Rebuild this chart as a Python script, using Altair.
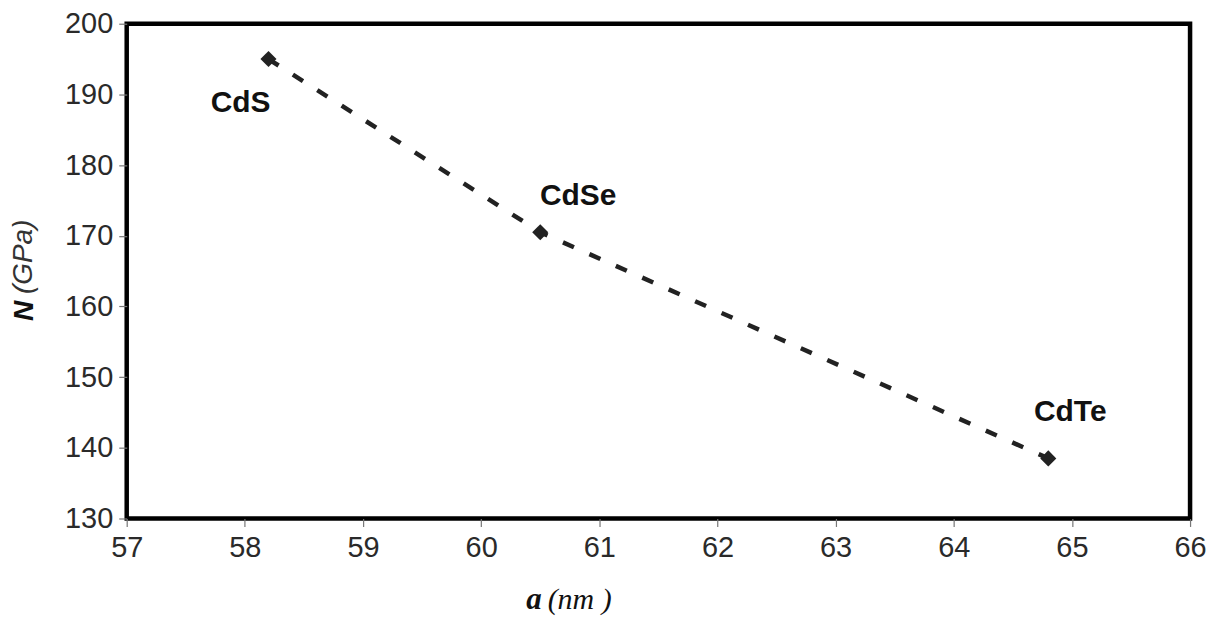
import altair as alt
import pandas as pd

compounds = ["CdS", "CdSe", "CdTe"]
lattice_a = [58.2, 60.5, 64.8]
modulus_n = [195.0, 170.5, 138.5]

x_ticks = [57, 58, 59, 60, 61, 62, 63, 64, 65, 66]
y_ticks = [130, 140, 150, 160, 170, 180, 190, 200]

df = pd.DataFrame({"compound": compounds, "a": lattice_a, "N": modulus_n})

W, H = 1066, 496
FONT = "Liberation Sans"

xs = alt.Scale(domain=[57, 66], nice=False, zero=False)
ys = alt.Scale(domain=[130, 200], nice=False, zero=False)

xax = alt.Axis(values=x_ticks, format="d", title=None, grid=False, domain=False,
               tickColor="#777", tickSize=8, tickWidth=1.2,
               labelFont=FONT, labelFontSize=29, labelColor="#2a2a2a",
               labelPadding=7, labelFlush=False)
yax = alt.Axis(values=y_ticks, format="d", title=None, grid=False, domain=False,
               tickColor="#777", tickSize=8, tickWidth=1.2,
               labelFont=FONT, labelFontSize=29, labelColor="#2a2a2a",
               labelPadding=6)

base = alt.Chart(df)

line = base.mark_line(color="#222", strokeWidth=4.5, strokeDash=[12, 17],
                      strokeCap="butt").encode(
    x=alt.X("a:Q", scale=xs, axis=xax),
    y=alt.Y("N:Q", scale=ys, axis=yax),
)

pts = base.mark_point(shape="diamond", filled=True, color="#222",
                      size=260, opacity=1).encode(
    x=alt.X("a:Q", scale=xs),
    y=alt.Y("N:Q", scale=ys),
)

label_offsets = {"CdS": (-28, 44), "CdSe": (38, -36), "CdTe": (22, -47)}
labels = []
for name in compounds:
    dx, dy = label_offsets[name]
    labels.append(
        base.transform_filter(alt.datum.compound == name)
        .mark_text(font=FONT, fontSize=30, fontWeight="bold", color="#111",
                   dx=dx, dy=dy)
        .encode(x=alt.X("a:Q", scale=xs), y=alt.Y("N:Q", scale=ys),
                text="compound:N")
    )

title_df = pd.DataFrame({"t": [0]})
tb = alt.Chart(title_df)
xt1 = tb.mark_text(text="a", font="Liberation Serif", fontSize=31,
                   fontStyle="italic", fontWeight="bold", color="#111",
                   align="right", baseline="middle").encode(
    x=alt.value(416), y=alt.value(578))
xt2 = tb.mark_text(text="(nm )", font="Liberation Serif", fontSize=30,
                   fontStyle="italic", color="#111",
                   align="left", baseline="middle").encode(
    x=alt.value(422), y=alt.value(578))
yt1 = tb.mark_text(text="N", font=FONT, fontSize=28, fontStyle="italic",
                   fontWeight="bold", color="#111", angle=270,
                   align="center", baseline="middle").encode(
    x=alt.value(-102), y=alt.value(288))
yt2 = tb.mark_text(text="(GPa)", font=FONT, fontSize=28, fontStyle="italic",
                   color="#333", angle=270,
                   align="left", baseline="middle").encode(
    x=alt.value(-103), y=alt.value(271))

chart = alt.layer(line, pts, *labels, xt1, xt2, yt1, yt2).properties(
    width=W, height=H,
    autosize=alt.AutoSizeParams(type="none"),
    padding={"left": 119, "top": 15, "right": 26, "bottom": 100},
    background="white",
).configure_view(stroke="black", strokeWidth=4.5)

chart.save("out.html", embed_options={"renderer": "svg", "actions": False})
